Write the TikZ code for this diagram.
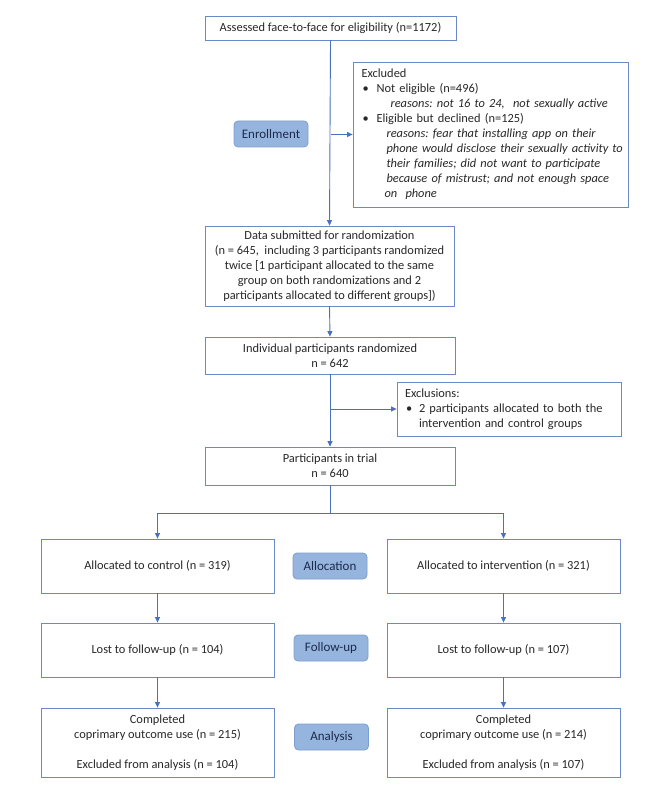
\documentclass[tikz,border=0pt]{standalone}
\usepackage{fontspec}
\setmainfont{Carlito}
\usetikzlibrary{arrows.meta}
\definecolor{boxline}{RGB}{105,138,196}
\definecolor{arrowc}{RGB}{72,114,192}
\definecolor{labfill}{RGB}{150,181,222}
\definecolor{labline}{RGB}{125,158,206}
\definecolor{labtext}{RGB}{28,42,75}
\definecolor{txt}{RGB}{40,40,40}
\frenchspacing
\begin{document}
\begin{tikzpicture}[x=1pt,y=-1pt,
  box/.style={draw=boxline, line width=0.8pt, fill=white, inner sep=0pt,
    font=\fontsize{12.4}{15}\selectfont, text=txt, align=center},
  stage/.style={draw=labline, fill=labfill, rounded corners=4pt, line width=0.8pt,
    font=\fontsize{13}{15}\selectfont, text=labtext,
    minimum width=74pt, minimum height=26pt, inner sep=0pt},
  arr/.style={draw=arrowc, line width=0.9pt, -{Triangle[length=5.5pt,width=5pt]}},
  ln/.style={draw=arrowc, line width=0.9pt}]
\useasboundingbox[fill=white] (0,0) rectangle (666,799);

% top part
\node[box, minimum width=251pt, minimum height=24pt] (top) at (330.5,28)
  {Assessed face-to-face for eligibility (n=1172)};
\node[box, minimum width=275pt, minimum height=145pt, text width=258pt, align=left] (excl) at (490.5,134.5)
  {\mbox{Excluded}\\
   \mbox{\makebox[15pt][l]{\hspace*{1pt}\textbullet}Not eligible (n=496)}\\
   \mbox{\hspace*{29pt}\textit{reasons: not 16 to 24,\ \ not sexually active}}\\
   \mbox{\makebox[15pt][l]{\hspace*{1pt}\textbullet}Eligible but declined (n=125)}\\
   \mbox{\hspace*{25pt}\textit{reasons: fear that installing app on their}}\\
   \mbox{\hspace*{25pt}\textit{phone would disclose their sexually activity to}}\\
   \mbox{\hspace*{25pt}\textit{their families; did not want to participate}}\\
   \mbox{\hspace*{25pt}\textit{because of mistrust; and not enough space}}\\
   \mbox{\hspace*{23pt}\textit{on\ \ phone}}};
\node[stage] (enr) at (271,134) {Enrollment};
\node[box, minimum width=249pt, minimum height=80pt] (data) at (329.5,266)
  {Data submitted for randomization\\
   (n = 645,\ \ including 3 participants randomized\\
   twice [1 participant allocated to the same\\
   group on both randomizations and 2\\
   participants allocated to different groups])};
\node[box, minimum width=250pt, minimum height=37pt] (ind) at (330,355.5)
  {Individual participants randomized\\n = 642};
\node[box, minimum width=224pt, minimum height=54pt, text width=208pt, align=left] (excl2) at (509,409)
  {\mbox{Exclusions:}\\
   \mbox{\makebox[14pt][l]{\hspace*{1pt}\textbullet}2 participants allocated to both the}\\
   \mbox{\hspace*{14pt}intervention and control groups}};
\node[box, minimum width=250pt, minimum height=38pt] (part) at (330,466)
  {Participants in trial\\n = 640};
\coordinate (split) at (330,513);

% arms
\node[box, minimum width=233pt, minimum height=54pt] (allocC) at (157.5,566) {Allocated to control (n = 319)};
\node[box, minimum width=233pt, minimum height=54pt] (allocI) at (503.5,566) {Allocated to intervention (n = 321)};
\node[box, minimum width=233pt, minimum height=54pt] (lostC) at (157.5,650) {Lost to follow-up (n = 104)};
\node[box, minimum width=233pt, minimum height=54pt] (lostI) at (503.5,650) {Lost to follow-up (n = 107)};
\node[box, minimum width=233pt, minimum height=69pt] (compC) at (157.5,742.5)
  {Completed\\coprimary outcome use (n = 215)\\[15pt]Excluded from analysis (n = 104)};
\node[box, minimum width=233pt, minimum height=69pt] (compI) at (503.5,742.5)
  {Completed\\coprimary outcome use (n = 214)\\[15pt]Excluded from analysis (n = 107)};

\node[stage] (alloc) at (330,566) {Allocation};
\node[stage] (fup) at (331,648) {Follow-up};
\node[stage] (ana) at (331.5,737) {Analysis};

% connectors
\draw[arr] (top.south) -- (data.north);
\draw[arr] (top.south |- excl.west) -- (excl.west);
\draw[arr] (data.south) -- (ind.north);
\draw[arr] (ind.south) -- (part.north);
\draw[arr] (ind.south |- excl2.west) -- (excl2.west);
\draw[ln] (part.south) -- (split);
\draw[arr] (split) -| (allocC.north);
\draw[arr] (split) -| (allocI.north);
\draw[arr] (allocC.south) -- (lostC.north);
\draw[arr] (allocI.south) -- (lostI.north);
\draw[arr] (lostC.south) -- (compC.north);
\draw[arr] (lostI.south) -- (compI.north);
\end{tikzpicture}
\end{document}
